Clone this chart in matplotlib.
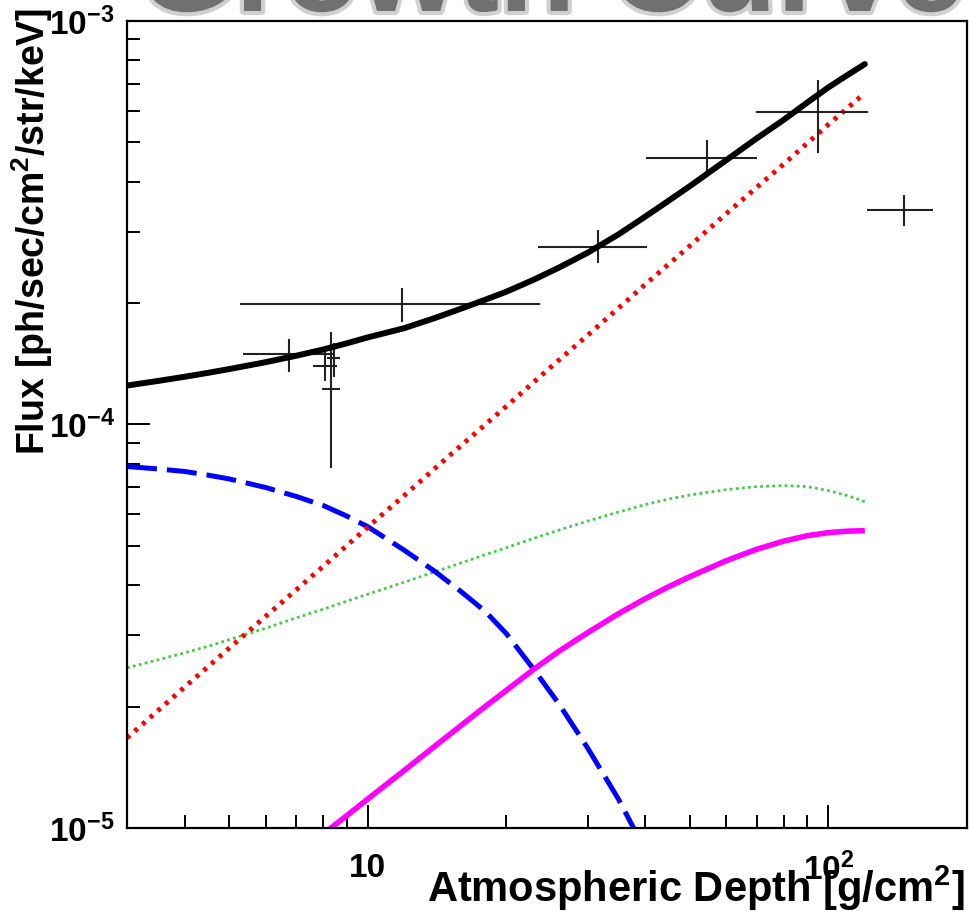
import matplotlib
matplotlib.use('Agg')
import matplotlib.pyplot as plt
import matplotlib.patheffects as pe
import numpy as np
from matplotlib.ticker import LogLocator, NullFormatter, FixedLocator, FixedFormatter

plt.rcParams['font.family'] = ['Liberation Sans', 'DejaVu Sans']
plt.rcParams['font.weight'] = 'bold'
plt.rcParams['mathtext.fontset'] = 'custom'
plt.rcParams['mathtext.rm'] = 'Liberation Sans:bold'
plt.rcParams['mathtext.bf'] = 'Liberation Sans:bold'
plt.rcParams['mathtext.it'] = 'Liberation Sans:bold'

# model curves (depth in g/cm2, flux)
depth = [3, 3.5, 4, 4.5, 5, 6, 7, 8, 9, 10, 12, 14, 16, 18, 20, 23, 26, 30, 35, 40,
         45, 50, 60, 70, 80, 90, 100, 110, 120]
total = [1.249e-4, 1.282e-4, 1.313e-4, 1.343e-4, 1.372e-4, 1.427e-4, 1.481e-4, 1.534e-4,
         1.589e-4, 1.644e-4, 1.733e-4, 1.837e-4, 1.940e-4, 2.039e-4, 2.134e-4, 2.289e-4,
         2.448e-4, 2.664e-4, 2.958e-4, 3.273e-4, 3.586e-4, 3.895e-4, 4.519e-4, 5.125e-4,
         5.690e-4, 6.281e-4, 6.846e-4, 7.345e-4, 7.82e-4]
green = [2.495e-5, 2.61e-5, 2.717e-5, 2.821e-5, 2.928e-5, 3.126e-5, 3.319e-5, 3.485e-5,
         3.648e-5, 3.797e-5, 4.066e-5, 4.317e-5, 4.545e-5, 4.757e-5, 4.952e-5, 5.229e-5,
         5.473e-5, 5.762e-5, 6.066e-5, 6.332e-5, 6.533e-5, 6.683e-5, 6.897e-5, 7.016e-5,
         7.056e-5, 7.016e-5, 6.858e-5, 6.664e-5, 6.440e-5]

red_depth = [3, 4, 5, 6, 8, 10, 12, 15, 20, 25, 30, 40, 50, 60, 80, 100, 120]
red = [1.672e-5, 2.234e-5, 2.79e-5, 3.346e-5, 4.45e-5, 5.57e-5, 6.67e-5, 8.35e-5,
       1.11e-4, 1.39e-4, 1.663e-4, 2.222e-4, 2.77e-4, 3.33e-4, 4.42e-4, 5.54e-4, 6.63e-4]

blue_depth = [3, 3.5, 4, 4.5, 5, 6, 7, 8, 9, 10, 12, 14, 16, 18, 20, 23, 26, 30, 35, 40]
blue = [7.87e-5, 7.76e-5, 7.65e-5, 7.49e-5, 7.33e-5, 6.98e-5, 6.63e-5, 6.30e-5, 5.93e-5,
        5.58e-5, 4.88e-5, 4.32e-5, 3.84e-5, 3.44e-5, 3.03e-5, 2.46e-5, 2.03e-5, 1.58e-5,
        1.18e-5, 0.882e-5]

magenta_depth = [8, 9, 10, 12, 14, 16, 18, 20, 23, 26, 30, 35, 40, 45, 50, 60, 70, 80,
                 90, 100, 110, 120]
magenta = [0.966e-5, 1.073e-5, 1.180e-5, 1.389e-5, 1.597e-5, 1.801e-5, 2.002e-5, 2.194e-5,
           2.480e-5, 2.742e-5, 3.047e-5, 3.396e-5, 3.700e-5, 3.963e-5, 4.195e-5, 4.597e-5,
           4.910e-5, 5.140e-5, 5.302e-5, 5.395e-5, 5.441e-5, 5.457e-5]

# measured points with error bars
pt_x = [6.74, 8.31, 8.06, 8.44, 11.86, 31.6, 54.6, 95.1, 145.6]
pt_xlo = [5.35, 7.94, 7.59, 8.15, 5.27, 23.4, 40.2, 69.8, 121.6]
pt_xhi = [8.48, 8.69, 8.56, 8.69, 23.6, 40.4, 70.1, 122.0, 169.0]
pt_y = [1.492e-4, 1.228e-4, 1.40e-4, 1.459e-4, 1.986e-4, 2.75e-4, 4.57e-4, 5.94e-4, 3.40e-4]
pt_ylo = [1.353e-4, 0.778e-4, 1.285e-4, 1.308e-4, 1.79e-4, 2.51e-4, 4.1e-4, 4.71e-4, 3.10e-4]
pt_yhi = [1.625e-4, 1.692e-4, 1.527e-4, 1.589e-4, 2.176e-4, 3.03e-4, 5.07e-4, 7.14e-4, 3.70e-4]

W, H = 969, 915
fig = plt.figure(figsize=(W / 100, H / 100), dpi=100)
ax = fig.add_axes([127 / W, 1 - 828 / H, (967 - 127) / W, (828 - 21) / H])

ax.plot(depth, green, color='#44cc44', lw=2.0, ls=(0, (1, 1.2)))
ax.plot(blue_depth, blue, color='#0000ff', lw=3.6, ls=(0, (6, 2)))
ax.plot(magenta_depth, magenta, color='#ff00ff', lw=4.0, solid_capstyle='butt')
ax.plot(red_depth, red, color='#ff0000', lw=3.5, ls=(0, (0.8, 1.3)))

px = np.array(pt_x)
py = np.array(pt_y)
xerr = [px - np.array(pt_xlo), np.array(pt_xhi) - px]
yerr = [py - np.array(pt_ylo), np.array(pt_yhi) - py]
ax.errorbar(px, py, xerr=xerr, yerr=yerr, fmt='none', ecolor='#222222',
            elinewidth=1.5, capsize=0)

ax.plot(depth, total, color='black', lw=4.3, solid_capstyle='round')

ax.set_xscale('log')
ax.set_yscale('log')
ax.set_xlim(3, 200)
ax.set_ylim(1e-5, 1e-3)

ax.xaxis.set_major_locator(FixedLocator([10, 100]))
ax.xaxis.set_major_formatter(FixedFormatter(['10', r'$\mathbf{10^{2}}$']))
ax.xaxis.set_minor_locator(LogLocator(base=10, subs=np.arange(2, 10)))
ax.xaxis.set_minor_formatter(NullFormatter())
ax.yaxis.set_major_locator(FixedLocator([1e-5, 1e-4, 1e-3]))
ax.yaxis.set_major_formatter(FixedFormatter([r'$\mathbf{10^{-5}}$', r'$\mathbf{10^{-4}}$',
                                             r'$\mathbf{10^{-3}}$']))
ax.yaxis.set_minor_locator(LogLocator(base=10, subs=np.arange(2, 10)))
ax.yaxis.set_minor_formatter(NullFormatter())

ax.tick_params(which='both', direction='in', top=False, right=False, width=1.4)
ax.tick_params(which='major', length=16.5, labelsize=24)
ax.tick_params(which='minor', length=9.5)
ax.tick_params(axis='y', pad=9)
ax.tick_params(axis='x', pad=18)
for s in ax.spines.values():
    s.set_linewidth(1.6)

fig.text(965 / W, 1 - 913 / H, r'Atmospheric Depth [g/cm$^{2}$]', ha='right', va='bottom',
         fontsize=30, fontweight='bold')
fig.text(32 / W, 1 - 8 / H, r'Flux [ph/sec/cm$^{2}$/str/keV]', rotation=90, ha='center',
         va='top', fontsize=27, fontweight='bold')

# title cut off at the top of the picture
fig.text(138 / W, 1 - 11 / H, 'Growth Curve', ha='left', va='baseline', fontsize=90,
         fontweight='bold', color='#707070', zorder=0,
         path_effects=[pe.withStroke(linewidth=6, foreground='#d0d0d0')])

fig.savefig('out.png', dpi=100)
